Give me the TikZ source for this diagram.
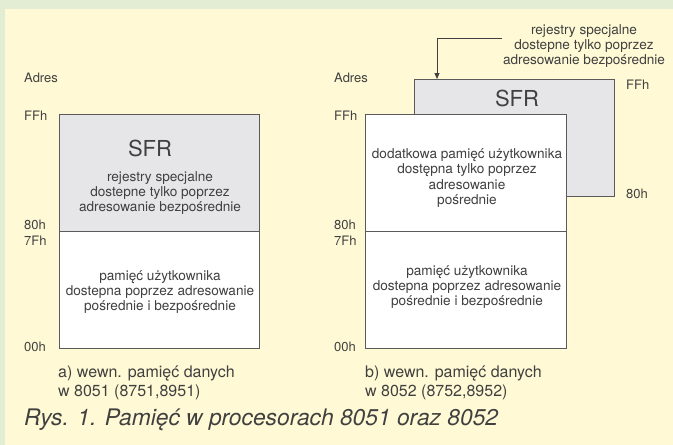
\documentclass[tikz,border=0pt]{standalone}
\usepackage{fontspec}
\setmainfont{TeX Gyre Heros}
\usetikzlibrary{arrows.meta}
\definecolor{bggreen}{HTML}{E3EDD4}
\definecolor{bgyellow}{HTML}{FFFAD5}
\definecolor{boxgray}{HTML}{E6E6E8}
\definecolor{txt}{HTML}{404040}
\definecolor{edge}{HTML}{5A5A5A}
\tikzset{
  memfill/.style={draw=edge, line width=0.9pt, inner sep=0pt, anchor=north west},
  body/.style={text=txt, align=center, font=\fontsize{13.6}{15.3}\selectfont, inner sep=0pt},
  lbl/.style={text=txt, anchor=west, font=\fontsize{13}{14}\selectfont, inner sep=0pt},
  sfr/.style={text=txt, font=\fontsize{22}{24}\selectfont, inner sep=0pt},
  capt/.style={text=txt, anchor=west, align=left, font=\fontsize{16}{19}\selectfont, inner sep=0pt},
  conn/.style={draw=txt, line width=0.8pt, -{Triangle[length=6pt,width=5pt]}}
}
\begin{document}
\begin{tikzpicture}[x=1pt,y=-1pt]
\useasboundingbox (0,0) rectangle (673,445);
\fill[bggreen] (0,0) rectangle (673,445);
\fill[bgyellow] (5,9) rectangle (673,445);
% left diagram
\node[memfill, fill=boxgray, minimum width=200pt, minimum height=117pt] (sfrA) at (59,114) {};
\node[memfill, fill=white, minimum width=200pt, minimum height=117pt] (ramA) at (59,231) {};
\node[sfr] (sfrAt) at (150,148) {SFR};
\node[body] (sfrAd) at (160,193) {rejestry specjalne\\dostepne tylko poprzez\\adresowanie bezpośrednie};
\node[body] (ramAd) at (160,292) {pamięć użytkownika\\dostepna poprzez adresowanie\\pośrednie i bezpośrednie};
\node[lbl] (adrA) at (24,78) {Adres};
\node[lbl] (ffA) at (24,116) {FFh};
\node[lbl] (h80A) at (24,225) {80h};
\node[lbl] (h7fA) at (24,241) {7Fh};
\node[lbl] (h00A) at (24,347) {00h};
\node[capt] (capA) at (58,383) {a) wewn. pamięć danych\\w 8051 (8751,8951)};
% right diagram
\node[memfill, fill=boxgray, minimum width=200pt, minimum height=117pt] (sfrB) at (414,79) {};
\node[memfill, fill=white, minimum width=201pt, minimum height=117pt] (extB) at (365,114) {};
\node[memfill, fill=white, minimum width=201pt, minimum height=117pt] (ramB) at (365,231) {};
\node[sfr] (sfrBt) at (517,98) {SFR};
\node[body] (extBd) at (467,178) {dodatkowa pamięć użytkownika\\dostępna tylko poprzez\\adresowanie\\pośrednie};
\node[body] (ramBd) at (467,287) {pamięć użytkownika\\dostepna poprzez adresowanie\\pośrednie i bezpośrednie};
\node[lbl] (adrB) at (334,78) {Adres};
\node[lbl] (ffB) at (334,116) {FFh};
\node[lbl] (h80B) at (334,225) {80h};
\node[lbl] (h7fB) at (334,241) {7Fh};
\node[lbl] (h00B) at (334,347) {00h};
\node[lbl] (ffS) at (626,85) {FFh};
\node[lbl] (h80S) at (626,194) {80h};
\node[body] (note) at (584,46) {rejestry specjalne\\dostepne tylko poprzez\\adresowanie bezpośrednie};
\coordinate (noteEnd) at (502,38);
\coordinate (sfrTop) at (437,79);
\draw[conn] (noteEnd) -| (sfrTop);
\node[capt] (capB) at (365,383) {b) wewn. pamięć danych\\w 8052 (8752,8952)};
% title
\node[capt, font=\fontsize{22.8}{24}\selectfont\itshape] (title) at (24,420) {Rys. 1. Pamięć w procesorach 8051 oraz 8052};
\end{tikzpicture}
\end{document}
